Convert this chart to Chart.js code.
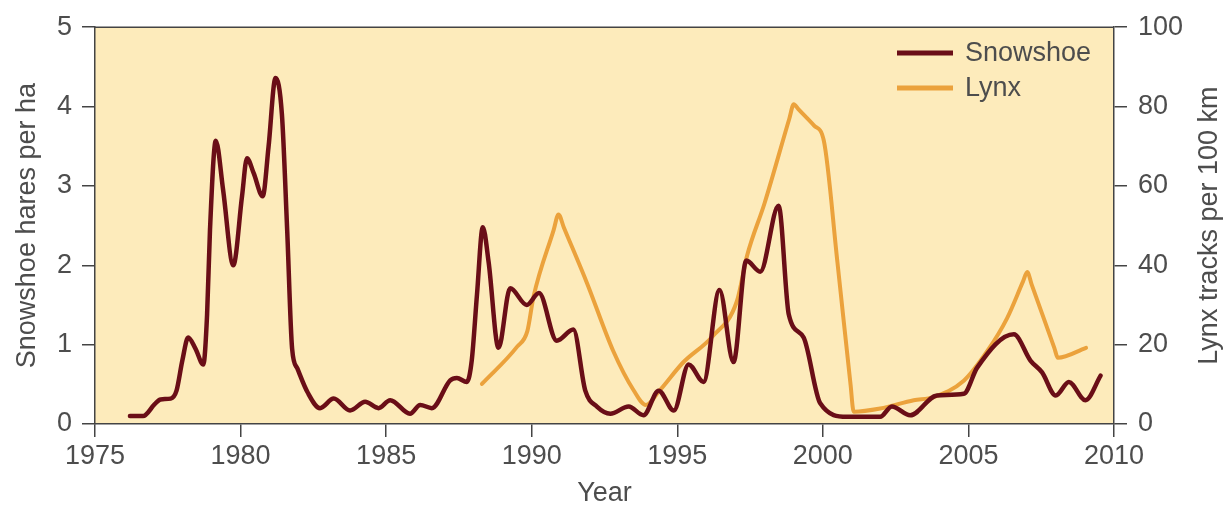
<!DOCTYPE html>
<html>
<head>
<meta charset="utf-8">
<title>Snowshoe hares and lynx</title>
<script src="https://cdn.jsdelivr.net/npm/chart.js@4/dist/chart.umd.min.js"></script>
<style>
  body { margin: 0; background: #fff; }
  #wrap { width: 1230px; height: 510px; }
</style>
</head>
<body>
<div id="wrap"><canvas id="chart" width="1230" height="510"></canvas></div>
<script>
// Data
const snowYears = [1976.2, 1976.65, 1977.05, 1977.25, 1977.6, 1977.8, 1978.0, 1978.2, 1978.45, 1978.72,
  1978.85, 1978.95, 1979.15, 1979.4, 1979.75, 1980.05, 1980.22, 1980.45, 1980.76, 1980.96,
  1981.2, 1981.42, 1981.6, 1981.77, 1981.95, 1982.3, 1982.73, 1983.2, 1983.76, 1984.28,
  1984.74, 1985.14, 1985.82, 1986.17, 1986.57, 1987.2, 1987.43, 1987.77, 1987.94, 1988.12,
  1988.32, 1988.52, 1988.86, 1989.26, 1989.83, 1990.25, 1990.86, 1991.43, 1991.84, 1992.24,
  1992.7, 1993.33, 1993.84, 1994.36, 1994.88, 1995.39, 1995.9, 1996.45, 1996.93, 1997.37,
  1997.85, 1998.48, 1998.83, 1999.34, 1999.91, 2000.83, 2001.97, 2002.37, 2003.0, 2003.92,
  2004.84, 2005.3, 2006.56, 2007.13, 2007.53, 2008.0, 2008.45, 2009.02, 2009.54];
const snowValues = [0.1, 0.1, 0.25, 0.31, 0.32, 0.42, 0.8, 1.09, 0.95, 0.75,
  1.38, 2.45, 3.57, 2.95, 2.0, 2.87, 3.35, 3.16, 2.87, 3.49,
  4.36, 3.9, 2.45, 0.95, 0.7, 0.4, 0.2, 0.32, 0.17, 0.28,
  0.2, 0.3, 0.13, 0.24, 0.2, 0.55, 0.58, 0.53, 0.8, 1.63,
  2.48, 2.04, 0.96, 1.71, 1.5, 1.65, 1.05, 1.19, 0.42, 0.22,
  0.13, 0.22, 0.11, 0.42, 0.17, 0.75, 0.53, 1.69, 0.78, 2.06,
  1.92, 2.75, 1.38, 1.09, 0.26, 0.09, 0.09, 0.22, 0.11, 0.36,
  0.38, 0.71, 1.13, 0.8, 0.65, 0.36, 0.53, 0.3, 0.61];

const lynxYears = [1988.29, 1989.5, 1989.85, 1990.06, 1990.75, 1990.92, 1991.1, 1991.9, 1992.8, 1993.5,
  1993.92, 1994.4, 1995.2, 1996.2, 1997.05, 1997.4, 1998.0, 1998.85, 1999.0, 1999.15,
  1999.7, 2000.03, 2000.5, 2000.95, 2001.06, 2001.97, 2003.12, 2003.8, 2004.84, 2005.65,
  2006.33, 2006.88, 2007.02, 2007.17, 2007.95, 2008.07, 2009.04];
const lynxValues = [10.1, 19.5, 23.4, 32, 48.8, 52.8, 49.6, 35.5, 18.4, 8.5,
  4.8, 8.5, 15.5, 22, 31, 42.5, 55.7, 77, 80.6, 79.4,
  75.2, 71.5, 40.8, 10, 3.1, 3.9, 6.0, 6.8, 10.9, 18.4,
  26.7, 36, 38.3, 35.2, 19.2, 16.7, 19.2];

const xTicks = [1975, 1980, 1985, 1990, 1995, 2000, 2005, 2010];

const snowColor = "#6a0e17";
const lynxColor = "#eba23c";
const textColor = "#4d4d4d";
const axisColor = "#444444";
const plotBg = "#fdebbb";
const font = { family: "'Liberation Sans', Arial, sans-serif", size: 27 };

// fond, ramme, høyre aksetittel og legende
const decor = {
  id: "decor",
  beforeDraw(chart) {
    const { ctx, chartArea: a } = chart;
    ctx.save();
    ctx.fillStyle = plotBg;
    ctx.fillRect(a.left, a.top, a.right - a.left, a.bottom - a.top);
    ctx.restore();
  },
  afterDraw(chart) {
    const { ctx, chartArea: a } = chart;
    ctx.save();
    ctx.strokeStyle = axisColor;
    ctx.lineWidth = 1.5;
    ctx.beginPath();
    ctx.moveTo(a.left, a.top);
    ctx.lineTo(a.right, a.top);
    ctx.stroke();

    ctx.font = `${font.size}px ${font.family}`;
    ctx.fillStyle = textColor;
    ctx.textAlign = "center";
    ctx.textBaseline = "middle";
    ctx.translate(1210, (a.top + a.bottom) / 2);
    ctx.rotate(-Math.PI / 2);
    ctx.fillText("Lynx tracks per 100 km", 0, 0);
    ctx.restore();

    ctx.save();
    ctx.font = `${font.size}px ${font.family}`;
    ctx.textAlign = "left";
    ctx.textBaseline = "middle";
    chart.data.datasets.forEach((ds, i) => {
      const y = 53 + i * 35;
      ctx.strokeStyle = ds.borderColor;
      ctx.lineWidth = 5;
      ctx.beginPath();
      ctx.moveTo(897, y);
      ctx.lineTo(953, y);
      ctx.stroke();
      ctx.fillStyle = textColor;
      ctx.fillText(ds.label, 965, y + 1);
    });
    ctx.restore();
  }
};

new Chart(document.getElementById("chart"), {
  type: "line",
  data: {
    datasets: [
      {
        label: "Snowshoe",
        data: snowYears.map((x, i) => ({ x, y: snowValues[i] })),
        yAxisID: "y",
        borderColor: snowColor,
        borderWidth: 4.5,
        pointRadius: 0,
        cubicInterpolationMode: "monotone",
        borderJoinStyle: "round",
        borderCapStyle: "round"
      },
      {
        label: "Lynx",
        data: lynxYears.map((x, i) => ({ x, y: lynxValues[i] })),
        yAxisID: "y2",
        borderColor: lynxColor,
        borderWidth: 4,
        pointRadius: 0,
        cubicInterpolationMode: "monotone",
        borderJoinStyle: "round",
        borderCapStyle: "round"
      }
    ]
  },
  options: {
    responsive: false,
    animation: false,
    devicePixelRatio: 1,
    layout: { padding: { top: 23, left: 0, right: 0, bottom: 0 } },
    plugins: { legend: { display: false }, tooltip: { enabled: false } },
    scales: {
      x: {
        type: "linear",
        position: "bottom",
        min: 1975,
        max: 2010,
        afterBuildTicks: s => { s.ticks = xTicks.map(v => ({ value: v })); },
        ticks: { color: textColor, font, padding: 3, maxRotation: 0, callback: v => String(v) },
        grid: { drawOnChartArea: false, tickLength: 13, color: axisColor, lineWidth: 1.5 },
        border: { color: axisColor, width: 1.5 },
        title: { display: true, text: "Year", color: textColor, font, padding: { top: 0, bottom: 0 } },
        afterFit: s => { s.height = 86; }
      },
      y: {
        position: "left",
        min: 0,
        max: 5,
        ticks: { stepSize: 1, color: textColor, font, padding: 10 },
        grid: { drawOnChartArea: false, tickLength: 13, color: axisColor, lineWidth: 1.5 },
        border: { color: axisColor, width: 1.5 },
        title: { display: true, text: "Snowshoe hares per ha", color: textColor, font, padding: { top: 11, bottom: 0 } },
        afterFit: s => { s.width = 95; }
      },
      y2: {
        position: "right",
        min: 0,
        max: 100,
        ticks: { stepSize: 20, color: textColor, font, padding: 11 },
        grid: { drawOnChartArea: false, tickLength: 13, color: axisColor, lineWidth: 1.5 },
        border: { color: axisColor, width: 1.5 },
        afterFit: s => { s.width = 116; }
      }
    }
  },
  plugins: [decor]
});
</script>
</body>
</html>
